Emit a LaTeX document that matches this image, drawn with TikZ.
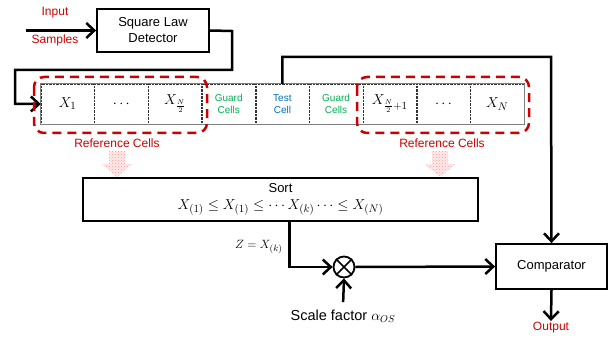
\documentclass[tikz,border=0pt]{standalone}
\usepackage{fontspec}
\setmainfont{Liberation Sans}
\usetikzlibrary{arrows.meta,patterns,positioning}

\definecolor{lblred}{RGB}{204,0,0}
\definecolor{guardgreen}{RGB}{0,176,80}
\definecolor{testblue}{RGB}{0,112,192}

\tikzset{
  flow/.style={line width=2.5pt, -{Straight Barb[length=8pt,width=15pt]}},
  block/.style={draw, line width=1.8pt, inner sep=0pt, align=center, font=\fontsize{13}{16}\selectfont},
  cell/.style={draw=black!80, densely dotted, minimum width=53.3pt, minimum height=40pt, inner sep=0pt, font=\fontsize{15}{17}\selectfont},
  small/.style={align=center, font=\fontsize{10}{12}\selectfont},
  redlabel/.style={text=lblred, font=\fontsize{12}{14}\selectfont},
  refbox/.style={draw=lblred, line width=2.5pt, dash pattern=on 9pt off 6pt, rounded corners=10pt},
  hatch/.style={fill=red!8, postaction={pattern=crosshatch dots, pattern color=red!40}}
}

\begin{document}
\begin{tikzpicture}[x=1pt, y=-1pt]
        \useasboundingbox (0,0) rectangle (609,339);

        % Detector and its input
        \node[block, minimum width=112pt, minimum height=43pt] (det) at (153,30.5) {Square Law\\Detector};
        \node[redlabel] (inlbl) at (55,13) {Input};
        \node[redlabel] (smplbl) at (55,40) {Samples};
        \coordinate (in) at (26,30.5);
        \draw[flow] (in) -- (det.west);

        % Row of cells
        \node[cell] (c1) at (67.6,104) {$X_1$};
        \node[cell, right=0pt of c1] (c2) {$\cdots$};
        \node[cell, right=0pt of c2] (c3) {$X_{\frac{N}{2}}$};
        \node[cell, right=0pt of c3, small, text=guardgreen] (c4) {Guard\\Cells};
        \node[cell, right=0pt of c4, small, text=testblue] (c5) {Test\\Cell};
        \node[cell, right=0pt of c5, small, text=guardgreen] (c6) {Guard\\Cells};
        \node[cell, right=0pt of c6] (c7) {$X_{\frac{N}{2}+1}$};
        \node[cell, right=0pt of c7] (c8) {$\cdots$};
        \node[cell, right=0pt of c8] (c9) {$X_N$};
        \draw[gray, line width=1pt] (c1.north west) rectangle (c9.south east);

        % Detector output into the row
        \draw[flow] (det.east) -- (232,31) -- (232,70) -- (15,70) |- (c1.west);

        % Reference cell groups
        \draw[refbox] (34,77) rectangle (207,133);
        \draw[refbox] (357,77) rectangle (529,133);
        \node[redlabel] (ref1) at (117,143) {Reference Cells};
        \node[redlabel] (ref2) at (442,143) {Reference Cells};
        \fill[hatch] (109,151) -- (125,151) -- (125,164) -- (132.5,164) -- (117,177)
          -- (101.5,164) -- (109,164) -- cycle;
        \fill[hatch] (432,151) -- (448,151) -- (448,164) -- (455.5,164) -- (440,177)
          -- (424.5,164) -- (432,164) -- cycle;

        % Sort, scaling and comparison
        \node[block, minimum width=395pt, minimum height=43pt] (sort) at (280.5,199.5)
          {Sort\\[1pt] \fontsize{15}{17}\selectfont $X_{(1)} \le X_{(1)} \le \cdots X_{(k)} \cdots \le X_{(N)}$};
        \node[draw, circle, line width=1.8pt, minimum size=21pt, inner sep=0pt] (mul) at (344,267) {};
        \draw[line width=1.5pt] (mul.north west) -- (mul.south east) (mul.north east) -- (mul.south west);
        \node[block, minimum width=111pt, minimum height=45pt] (cmp) at (551.5,266.5) {Comparator};
        \node[font=\fontsize{14.5}{16}\selectfont] (sf) at (343,316) {Scale factor $\alpha_{OS}$};
        \node[redlabel] (out) at (551,328) {Output};
        \node[anchor=east, font=\fontsize{13}{15}\selectfont] (zlbl) at (286,247) {$Z = X_{(k)}$};
        \coordinate (turn) at (551,57);

        \draw[flow] (c5.north) |- (turn) -- (cmp.north);
        \draw[flow] ([xshift=9pt]sort.south) |- (mul.west);
        \draw[flow] (mul.east) -- (cmp.west);
        \draw[flow, shorten <=4pt] (sf.north) -- (mul.south);
        \draw[flow, shorten >=-2pt] (cmp.south) -- (out.north);
    \end{tikzpicture}
\end{document}
